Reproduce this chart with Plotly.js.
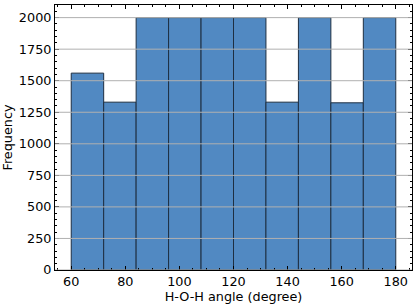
<!DOCTYPE html>
<html><head><meta charset="utf-8">
<script src="https://cdn.plot.ly/plotly-3.0.1.min.js"></script>
<style>body{margin:0;padding:0;background:#fff}#c{width:416px;height:304px}</style>
</head><body><div id="c"></div>
<script>
const binEdges = [60, 72, 84, 96, 108, 120, 132, 144, 156, 168, 180];
const counts = [1560, 1330, 2000, 2000, 2000, 2000, 1330, 2000, 1325, 2000];
const yTicks = [0, 250, 500, 750, 1000, 1250, 1500, 1750, 2000];
const xTicks = [60, 80, 100, 120, 140, 160, 180];

const centers = counts.map((_, i) => (binEdges[i] + binEdges[i+1]) / 2);
const widths = counts.map((_, i) => binEdges[i+1] - binEdges[i]);

const font = {family: 'DejaVu Sans', size: 12.8, color: '#000'};
const gridShapes = yTicks.map(v => ({
  type: 'line', xref: 'paper', yref: 'y', x0: 0, x1: 1, y0: v, y1: v,
  line: {color: '#b0b0b0', width: 1}, layer: 'above'
}));

const axisCommon = {
  showline: true, linecolor: '#000', linewidth: 1, mirror: 'allticks',
  ticks: 'inside', ticklen: 4, tickwidth: 1, tickcolor: '#000',
  showgrid: false, zeroline: false, tickfont: font
};

Plotly.newPlot('c', [{
  type: 'bar', x: centers, y: counts, width: widths,
  marker: {color: '#5189c2', line: {color: '#1e2f42', width: 1}},
  hoverinfo: 'skip'
}], {
  width: 416, height: 304,
  margin: {l: 55, r: 4, t: 5, b: 34},
  paper_bgcolor: '#fff', plot_bgcolor: '#fff',
  showlegend: false,
  font: font,
  bargap: 0,
  shapes: gridShapes,
  xaxis: Object.assign({}, axisCommon, {
    range: [54, 186], tickvals: xTicks, ticktext: xTicks.map(String),
    minor: {ticks: 'inside', dtick: 5, tick0: 0, ticklen: 2, tickcolor: '#000', showgrid: false},
    title: {text: 'H-O-H angle (degree)', font: font, standoff: 1}
  }),
  yaxis: Object.assign({}, axisCommon, {
    range: [0, 2100], tickvals: yTicks, ticktext: yTicks.map(String),
    minor: {ticks: 'inside', dtick: 50, tick0: 0, ticklen: 2, tickcolor: '#000', showgrid: false},
    title: {text: 'Frequency', font: font, standoff: 4}
  })
}, {staticPlot: true});
</script></body></html>
